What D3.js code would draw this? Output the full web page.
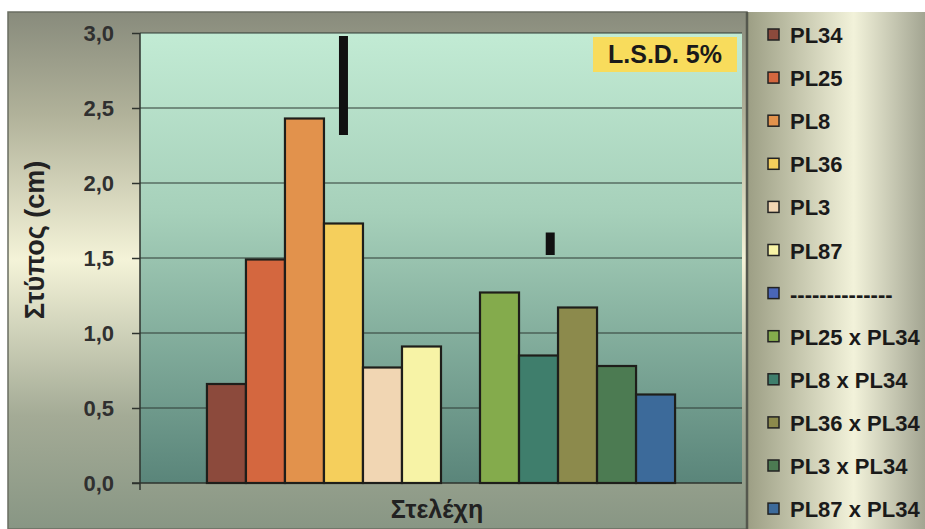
<!DOCTYPE html>
<html>
<head>
<meta charset="utf-8">
<script src="https://cdn.jsdelivr.net/npm/d3@7"></script>
<style>
  body { margin: 0; background: #fff; }
  text { font-family: "Liberation Sans", Arial, sans-serif; font-weight: bold; }
</style>
</head>
<body>
<div id="chart"></div>
<script>
// data
const category = ["Στελέχη"];
const series = ["PL34", "PL25", "PL8", "PL36", "PL3", "PL87", "--------------",
  "PL25 x PL34", "PL8 x PL34", "PL36 x PL34", "PL3 x PL34", "PL87 x PL34"];
const values = [0.66, 1.49, 2.43, 1.73, 0.77, 0.91, 0, 1.27, 0.85, 1.17, 0.78, 0.59];
const colors = ["#8c4a3c", "#d4673f", "#e2924c", "#f5cf5c", "#f1d6b3", "#f7f3a6", "#4a66b8",
  "#84ab4c", "#3f7e6c", "#8c8a4c", "#4c7b52", "#3c6a9a"];
const yTicks = [0, 0.5, 1, 1.5, 2, 2.5, 3];
// L.S.D. bars: position on the series index, low and high value
const lsdAt = [3.5, 8.8];
const lsdLow = [2.32, 1.52];
const lsdHigh = [2.98, 1.67];

const W = 925, H = 529;
const plot = {left: 140, right: 742, top: 33, bottom: 483};

const svg = d3.select("#chart").append("svg")
  .attr("width", W).attr("height", H);

const defs = svg.append("defs");
const outerGrad = defs.append("linearGradient").attr("id", "outerBg")
  .attr("x1", 0).attr("y1", 0).attr("x2", 0).attr("y2", 1);
outerGrad.append("stop").attr("offset", "0%").attr("stop-color", "#888b7c");
outerGrad.append("stop").attr("offset", "20%").attr("stop-color", "#b1b29a");
outerGrad.append("stop").attr("offset", "48%").attr("stop-color", "#f4f3d8");
outerGrad.append("stop").attr("offset", "78%").attr("stop-color", "#a4ab96");
outerGrad.append("stop").attr("offset", "100%").attr("stop-color", "#889684");

const plotGrad = defs.append("linearGradient").attr("id", "plotBg")
  .attr("x1", 0).attr("y1", 0).attr("x2", 0).attr("y2", 1);
plotGrad.append("stop").attr("offset", "0%").attr("stop-color", "#c2ebd4");
plotGrad.append("stop").attr("offset", "40%").attr("stop-color", "#a6d0ba");
plotGrad.append("stop").attr("offset", "100%").attr("stop-color", "#5a857a");

const legGrad = defs.append("linearGradient").attr("id", "legBg")
  .attr("x1", 0).attr("y1", 0).attr("x2", 1).attr("y2", 0);
legGrad.append("stop").attr("offset", "0%").attr("stop-color", "#9c9e84");
legGrad.append("stop").attr("offset", "60%").attr("stop-color", "#f2f2da");
legGrad.append("stop").attr("offset", "100%").attr("stop-color", "#a3a592");

// chart frame
svg.append("rect")
  .attr("x", 8).attr("y", 12).attr("width", 739).attr("height", H - 12)
  .attr("fill", "url(#outerBg)").attr("stroke", "#6a6e62").attr("stroke-width", 1.5);

svg.append("rect")
  .attr("x", plot.left).attr("y", plot.top)
  .attr("width", plot.right - plot.left).attr("height", plot.bottom - plot.top)
  .attr("fill", "url(#plotBg)");

// legend panel
svg.append("rect")
  .attr("x", 747).attr("y", 12).attr("width", W - 747).attr("height", H - 12)
  .attr("fill", "url(#legBg)");
svg.append("line")
  .attr("x1", 747).attr("x2", 747).attr("y1", 12).attr("y2", H)
  .attr("stroke", "#55584e").attr("stroke-width", 2.5);

// scales
const y = d3.scaleLinear().domain([0, 3]).range([plot.bottom, plot.top]);
const x0 = d3.scaleBand().domain(category).range([plot.left, plot.right])
  .paddingInner(0).paddingOuter(0.143);
const x1 = d3.scaleBand().domain(series).range([0, x0.bandwidth()]).padding(0);
const xIdx = d3.scaleLinear().domain([0, series.length])
  .range([x0(category[0]), x0(category[0]) + x0.bandwidth()]);

// gridlines
svg.append("g")
  .selectAll("line")
  .data(yTicks.filter(d => d > 0))
  .join("line")
    .attr("x1", plot.left).attr("x2", plot.right)
    .attr("y1", d => y(d)).attr("y2", d => y(d))
    .attr("stroke", "#2e3a34").attr("stroke-width", 1.2);

// y axis
const yAxis = d3.axisLeft(y).tickValues(yTicks).tickSize(8).tickPadding(18)
  .tickFormat(d => d3.format(".1f")(d).replace(".", ","));
const gy = svg.append("g")
  .attr("transform", `translate(${plot.left},0)`)
  .call(yAxis);
gy.select(".domain").attr("stroke", "#2e332e").attr("stroke-width", 1.5)
  .attr("d", `M0,${plot.top}V${plot.bottom + 7}`);
gy.selectAll(".tick line").attr("stroke", "#2e332e").attr("stroke-width", 1.5);
gy.selectAll(".tick text")
  .attr("font-size", 22).attr("fill", "#303030").attr("dy", "0.36em")
  .style("font-family", "'Liberation Sans', Arial, sans-serif").style("font-weight", "bold");

// x axis line
svg.append("line")
  .attr("x1", plot.left - 8).attr("x2", plot.right)
  .attr("y1", plot.bottom).attr("y2", plot.bottom)
  .attr("stroke", "#2e332e").attr("stroke-width", 1.5);

// bars
svg.append("g")
  .selectAll("rect")
  .data(series.map((s, i) => ({s: s, v: values[i], c: colors[i]})))
  .join("rect")
    .attr("x", d => x0(category[0]) + x1(d.s))
    .attr("y", d => y(d.v))
    .attr("width", x1.bandwidth())
    .attr("height", d => y(0) - y(d.v))
    .attr("fill", d => d.c)
    .attr("stroke", d => d.v > 0 ? "#1e1e1a" : "none")
    .attr("stroke-width", 2.2);

// L.S.D. bars
svg.append("g")
  .selectAll("line")
  .data(lsdAt.map((p, i) => ({p: p, lo: lsdLow[i], hi: lsdHigh[i]})))
  .join("line")
    .attr("x1", d => xIdx(d.p)).attr("x2", d => xIdx(d.p))
    .attr("y1", d => y(d.hi)).attr("y2", d => y(d.lo))
    .attr("stroke", "#111").attr("stroke-width", 9);

// L.S.D. label
svg.append("rect")
  .attr("x", 593).attr("y", 37).attr("width", 144).attr("height", 35)
  .attr("fill", "#f8dc5c");
svg.append("text")
  .attr("x", 665).attr("y", 63).attr("text-anchor", "middle")
  .attr("font-size", 25).attr("fill", "#1a1a1a")
  .text("L.S.D. 5%");

// axis titles
svg.append("text")
  .attr("transform", `translate(44,240) rotate(-90)`)
  .attr("text-anchor", "middle").attr("font-size", 27).attr("fill", "#222")
  .text("Στύπος (cm)");
svg.append("text")
  .attr("x", 437).attr("y", 518)
  .attr("text-anchor", "middle").attr("font-size", 25).attr("fill", "#222")
  .text(category[0]);

// legend
const leg = svg.append("g")
  .selectAll("g")
  .data(series.map((s, i) => ({s: s, c: colors[i]})))
  .join("g")
    .attr("transform", (d, i) => `translate(768,${35 + i * 43.1})`);
leg.append("rect")
  .attr("x", 0).attr("y", -6).attr("width", 11).attr("height", 11)
  .attr("fill", d => d.c).attr("stroke", "#222").attr("stroke-width", 1.5);
leg.append("text")
  .attr("x", 22).attr("y", 8)
  .attr("font-size", 22).attr("fill", "#1a1a1a")
  .text(d => d.s);
</script>
</body>
</html>
